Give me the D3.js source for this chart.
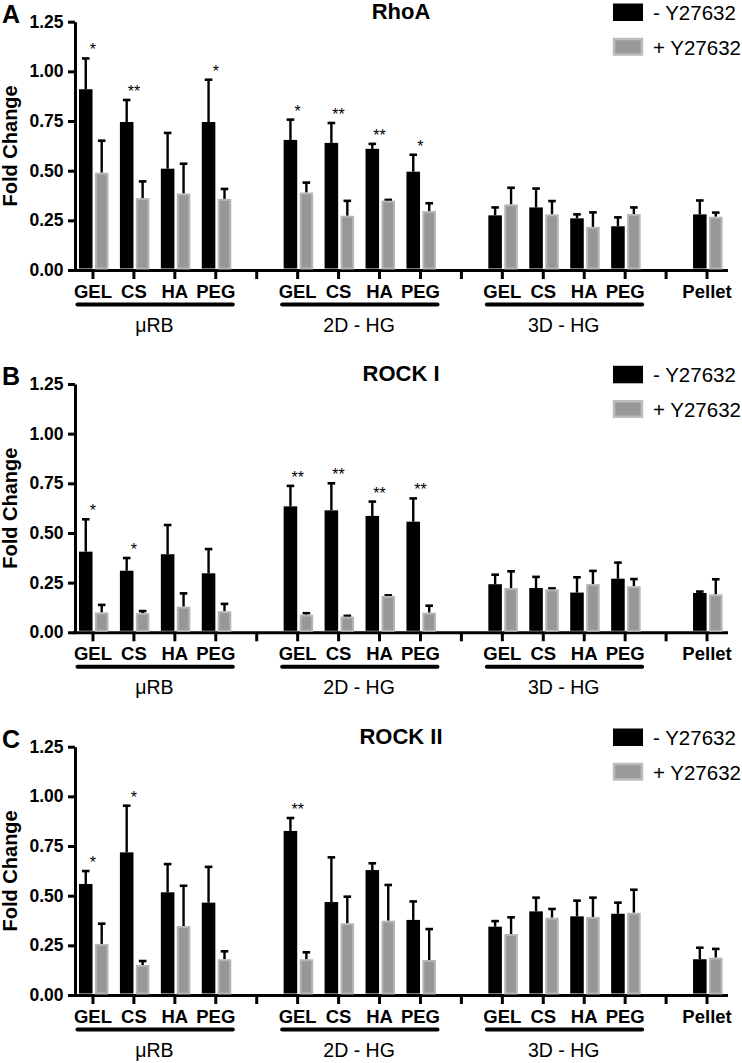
<!DOCTYPE html>
<html>
<head>
<meta charset="utf-8">
<script src="https://cdn.jsdelivr.net/npm/d3@7"></script>
<style>
  html, body { margin: 0; padding: 0; background: #fff; }
  svg { display: block; font-family: "Liberation Sans", Arial, Helvetica, sans-serif; }
</style>
</head>
<body>
<svg id="chart" width="742" height="1063"></svg>
<script>
// ---- data ----
const slotLabels = ["GEL","CS","HA","PEG","","GEL","CS","HA","PEG","","GEL","CS","HA","PEG","","Pellet"];
const barSlots = [0,1,2,3,5,6,7,8,10,11,12,13,15];
const groupNames = ["\u03bcRB","2D - HG","3D - HG"];
const groupSlots = [[0,3],[5,8],[10,13]];
const yTicks = [0, 0.25, 0.5, 0.75, 1.0, 1.25];
const seriesNames = ["- Y27632", "+ Y27632"];
const panelLetters = ["A","B","C"];
const panelTitles = ["RhoA","ROCK I","ROCK II"];

const rhoaMinus    = [0.91, 0.745, 0.51, 0.745, 0.655, 0.64, 0.61, 0.495, 0.275, 0.315, 0.26, 0.22, 0.28];
const rhoaMinusErr = [0.155, 0.111, 0.18, 0.213, 0.102, 0.10, 0.025, 0.085, 0.04, 0.095, 0.02, 0.045, 0.07];
const rhoaPlus     = [0.49, 0.362, 0.385, 0.358, 0.39, 0.273, 0.349, 0.297, 0.33, 0.28, 0.217, 0.282, 0.268];
const rhoaPlusErr  = [0.161, 0.084, 0.15, 0.05, 0.05, 0.075, 0.004, 0.039, 0.084, 0.067, 0.073, 0.033, 0.021];
const rhoaStars    = ["*","**","","*","*","**","**","*","","","","",""];

const rock1Minus    = [0.406, 0.31, 0.393, 0.297, 0.634, 0.614, 0.586, 0.557, 0.242, 0.223, 0.2, 0.27, 0.198];
const rock1MinusErr = [0.163, 0.064, 0.147, 0.122, 0.103, 0.136, 0.072, 0.117, 0.048, 0.056, 0.077, 0.081, 0.007];
const rock1Plus     = [0.10, 0.097, 0.129, 0.106, 0.089, 0.079, 0.183, 0.099, 0.223, 0.216, 0.243, 0.232, 0.191];
const rock1PlusErr  = [0.038, 0.01, 0.067, 0.037, 0.007, 0.004, 0.003, 0.035, 0.084, 0.005, 0.066, 0.036, 0.076];
const rock1Stars    = ["*","*","","","**","**","**","**","","","","",""];

const rock2Minus    = [0.559, 0.718, 0.517, 0.465, 0.826, 0.468, 0.629, 0.378, 0.344, 0.421, 0.396, 0.409, 0.18];
const rock2MinusErr = [0.065, 0.235, 0.142, 0.18, 0.065, 0.225, 0.034, 0.093, 0.028, 0.069, 0.079, 0.056, 0.058];
const rock2Plus     = [0.257, 0.151, 0.347, 0.18, 0.18, 0.361, 0.374, 0.176, 0.307, 0.389, 0.393, 0.414, 0.188];
const rock2PlusErr  = [0.102, 0.02, 0.203, 0.04, 0.035, 0.134, 0.18, 0.156, 0.084, 0.044, 0.097, 0.116, 0.044];
const rock2Stars    = ["*","*","","","**","","","","","","","",""];

const panels = [
  {minus: rhoaMinus, minusErr: rhoaMinusErr, plus: rhoaPlus, plusErr: rhoaPlusErr, stars: rhoaStars},
  {minus: rock1Minus, minusErr: rock1MinusErr, plus: rock1Plus, plusErr: rock1PlusErr, stars: rock1Stars},
  {minus: rock2Minus, minusErr: rock2MinusErr, plus: rock2Plus, plusErr: rock2PlusErr, stars: rock2Stars}
];

// ---- layout ----
const svg = d3.select("#chart");
const panelOffsets = [0, 362.3, 725];
const axisX = 75;
const plotTop = 21.7, plotBottom = 270;

const x = d3.scaleBand().domain(d3.range(slotLabels.length)).range([72.5, 727.5]).padding(0);
const sub = d3.scaleBand().domain(["minus","plus"]).range([-14, 15.5]).paddingInner(0.15);
const cx = i => x(i) + x.bandwidth() / 2;

panels.forEach((p, pi) => {
  const oy = panelOffsets[pi];
  const g = svg.append("g");
  const y = d3.scaleLinear().domain([0, 1.25]).range([oy + plotBottom, oy + plotTop]);

  // x axis
  const xAxis = d3.axisBottom(x).tickSize(9).tickSizeOuter(0).tickPadding(5.5)
      .tickFormat(i => slotLabels[i]);
  const xg = g.append("g").attr("transform", `translate(0,${oy + plotBottom})`).call(xAxis);
  xg.select(".domain").attr("stroke", "#000").attr("stroke-width", 3);
  xg.selectAll(".tick line").attr("stroke", "#000").attr("stroke-width", 3);
  xg.selectAll(".tick text").attr("font-size", 18.5).attr("font-weight", "bold")
    .attr("fill", "#000").attr("font-family", "Liberation Sans, Arial, sans-serif");

  // y axis
  const yAxis = d3.axisLeft(y).tickValues(yTicks).tickFormat(d3.format(".2f"))
      .tickSize(7).tickSizeOuter(0).tickPadding(4.5);
  const yg = g.append("g").attr("transform", `translate(${axisX},0)`).call(yAxis);
  yg.select(".domain").attr("stroke", "#000").attr("stroke-width", 3);
  yg.selectAll(".tick line").attr("stroke", "#000").attr("stroke-width", 3);
  yg.selectAll(".tick text").attr("font-size", 17.5).attr("font-weight", "bold")
    .attr("fill", "#000").attr("font-family", "Liberation Sans, Arial, sans-serif");

  // y label
  g.append("text")
    .attr("transform", `translate(17,${(y(0) + y(1.25)) / 2}) rotate(-90)`)
    .attr("text-anchor", "middle").attr("font-size", 20).attr("font-weight", "bold")
    .text("Fold Change");

  // panel letter & title
  g.append("text").attr("x", 2).attr("y", oy + 22.5)
    .attr("font-size", 25).attr("font-weight", "bold").text(panelLetters[pi]);
  g.append("text").attr("x", 401).attr("y", oy + 19)
    .attr("text-anchor", "middle").attr("font-size", 22).attr("font-weight", "bold")
    .text(panelTitles[pi]);

  // legend
  g.append("rect").attr("x", 613).attr("y", oy + 3.5).attr("width", 30).attr("height", 17.5).attr("fill", "#000");
  g.append("rect").attr("x", 614).attr("y", oy + 39).attr("width", 28).attr("height", 15.5)
    .attr("fill", "#999").attr("stroke", "#bcbcbc").attr("stroke-width", 2.5);
  g.append("text").attr("x", 653).attr("y", oy + 19.5).attr("font-size", 20.5).text(seriesNames[0]);
  g.append("text").attr("x", 653).attr("y", oy + 55).attr("font-size", 20.5).text(seriesNames[1]);

  // group underlines + names
  groupSlots.forEach((gs, gi) => {
    const x0 = cx(gs[0]) - 15.5, x1 = cx(gs[1]) + 17;
    g.append("line").attr("x1", x0).attr("x2", x1)
      .attr("y1", oy + 304.5).attr("y2", oy + 304.5)
      .attr("stroke", "#000").attr("stroke-width", 4).attr("stroke-linecap", "round");
    g.append("text").attr("x", (cx(gs[0]) + cx(gs[1])) / 2).attr("y", oy + 331.5)
      .attr("text-anchor", "middle").attr("font-size", 19.5).text(groupNames[gi]);
  });

  // bars
  const rows = barSlots.map((s, i) => ({
    slot: s, minus: p.minus[i], minusErr: p.minusErr[i],
    plus: p.plus[i], plusErr: p.plusErr[i], star: p.stars[i]
  }));

  const errs = [];
  rows.forEach(r => {
    errs.push({xc: cx(r.slot) + sub("minus") + sub.bandwidth() / 2, v: r.minus, e: r.minusErr});
    errs.push({xc: cx(r.slot) + sub("plus") + sub.bandwidth() / 2, v: r.plus, e: r.plusErr});
  });

  g.selectAll(".evl").data(errs).join("line")
    .attr("x1", d => d.xc).attr("x2", d => d.xc)
    .attr("y1", d => y(d.v)).attr("y2", d => y(d.v + d.e))
    .attr("stroke", "#000").attr("stroke-width", 2.4);
  g.selectAll(".ecap").data(errs).join("line")
    .attr("x1", d => d.xc - 3.8).attr("x2", d => d.xc + 3.8)
    .attr("y1", d => y(d.v + d.e)).attr("y2", d => y(d.v + d.e))
    .attr("stroke", "#000").attr("stroke-width", 2.6);

  g.selectAll(".bm").data(rows).join("rect")
    .attr("x", d => cx(d.slot) + sub("minus"))
    .attr("width", sub.bandwidth())
    .attr("y", d => y(d.minus))
    .attr("height", d => y(0) - y(d.minus) - 1.5)
    .attr("fill", "#000");
  g.selectAll(".bp").data(rows).join("rect")
    .attr("x", d => cx(d.slot) + sub("plus") + 1)
    .attr("width", sub.bandwidth() - 2)
    .attr("y", d => y(d.plus) + 1)
    .attr("height", d => Math.max(0, y(0) - y(d.plus) - 2.5))
    .attr("fill", "#979797").attr("stroke", "#b5b5b5").attr("stroke-width", 2);

  // significance stars
  g.selectAll(".star").data(rows.filter(r => r.star)).join("text")
    .attr("x", d => cx(d.slot))
    .attr("y", d => y(d.minus + d.minusErr) - 3)
    .attr("text-anchor", "middle").attr("font-size", 16)
    .text(d => d.star);
});
</script>
</body>
</html>
